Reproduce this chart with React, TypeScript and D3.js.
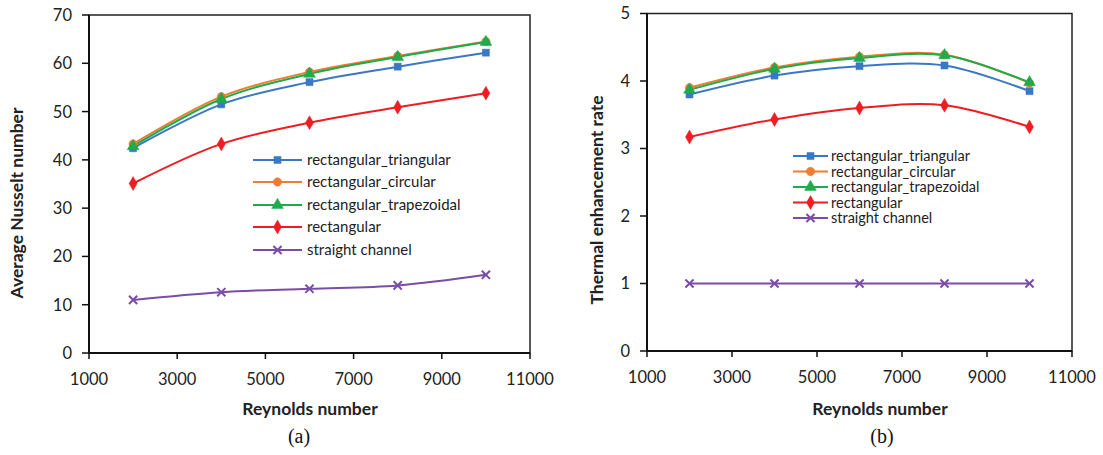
import React from 'react'
import * as d3 from 'd3'

const reynolds = [2000, 4000, 6000, 8000, 10000]
const xTicks = [1000, 3000, 5000, 7000, 9000, 11000]

const seriesNames = ['rectangular_triangular', 'rectangular_circular', 'rectangular_trapezoidal', 'rectangular', 'straight channel']

// Average Nusselt number
const nuTriangular = [42.4, 51.5, 56.1, 59.3, 62.2]
const nuCircular = [43.3, 53.1, 58.2, 61.5, 64.5]
const nuTrapezoidal = [42.8, 52.6, 57.8, 61.3, 64.4]
const nuRectangular = [35.1, 43.3, 47.7, 50.9, 53.8]
const nuStraight = [11.0, 12.6, 13.3, 14.0, 16.2]
const nuTicks = [0, 10, 20, 30, 40, 50, 60, 70]

// Thermal enhancement rate
const terTriangular = [3.8, 4.08, 4.22, 4.23, 3.85]
const terCircular = [3.9, 4.2, 4.36, 4.39, 3.97]
const terTrapezoidal = [3.87, 4.18, 4.34, 4.38, 3.98]
const terRectangular = [3.17, 3.43, 3.6, 3.64, 3.32]
const terStraight = [1, 1, 1, 1, 1]
const terTicks = [0, 1, 2, 3, 4, 5]

const colors = ['#3b78c4', '#ed7d31', '#1eab4c', '#ee1d23', '#7b4ca8']
const symbols = [d3.symbolSquare, d3.symbolCircle, d3.symbolTriangle, d3.symbolDiamond, d3.symbolX]
const symSizes = [50, 55, 60, 55, 45]
const font = 'Lato, "Open Sans", sans-serif'

function Marker({ i, x, y }: { i: number; x: number; y: number }) {
  const p = d3.symbol(symbols[i], symSizes[i])() || ''
  const stroke = i === 4
  return (
    <path d={p} transform={`translate(${x},${y})`}
      fill={stroke ? 'none' : colors[i]} stroke={colors[i]} strokeWidth={stroke ? 2 : 0.5} />
  )
}

function Panel({ data, ticks, xr, yr, yTitle, yTitlePos, xTitleX, tag, tagX, legend }: any) {
  const x = d3.scaleLinear().domain([1000, 11000]).range(xr)
  const y = d3.scaleLinear().domain([ticks[0], ticks[ticks.length - 1]]).range(yr)
  const line = d3.line<number>().x((_, k) => x(reynolds[k])).y(d => y(d)).curve(d3.curveCatmullRom.alpha(0.5))
  const [x0, x1] = xr
  const [y0, y1] = yr
  return (
    <g>
      <rect x={x0} y={y1} width={x1 - x0} height={y0 - y1} fill="none" stroke="#222" strokeWidth={1.5} />
      <line x1={x0} x2={x0} y1={y1} y2={y0} stroke="#111" strokeWidth={2} />
      <line x1={x0} x2={x1} y1={y0} y2={y0} stroke="#111" strokeWidth={2} />
      {ticks.map((t: number) => (
        <g key={t}>
          <line x1={x0 - 7} x2={x0} y1={y(t)} y2={y(t)} stroke="#111" strokeWidth={1.5} />
          <text x={x0 - 17} y={y(t)} dy="0.36em" textAnchor="end" fontSize={16.5} fill="#222" fontFamily={font}>{t}</text>
        </g>
      ))}
      {xTicks.map(t => (
        <g key={t}>
          <line x1={x(t)} x2={x(t)} y1={y0} y2={y0 + 6} stroke="#111" strokeWidth={1.5} />
          <text x={x(t)} y={y0 + 32} textAnchor="middle" fontSize={16.5} fill="#222" fontFamily={font}>{t}</text>
        </g>
      ))}
      {data.map((vals: number[], i: number) => (
        <path key={i} d={line(vals) || ''} fill="none" stroke={colors[i]} strokeWidth={2} />
      ))}
      {data.map((vals: number[], i: number) => vals.map((v, k) => (
        <Marker key={i + '-' + k} i={i} x={x(reynolds[k])} y={y(v)} />
      )))}
      <text x={xTitleX} y={415} textAnchor="middle" fontSize={17.5} fontWeight="bold" fill="#222" fontFamily={font}>Reynolds number</text>
      <text transform={`translate(${yTitlePos[0]},${yTitlePos[1]}) rotate(-90)`} dy="0.36em" textAnchor="middle" fontSize={17.5} fontWeight="bold" fill="#222" fontFamily={font}>{yTitle}</text>
      <text x={tagX} y={443} textAnchor="middle" fontSize={20} fill="#111" fontFamily='"Liberation Serif", "Times New Roman", serif'>{tag}</text>
      {seriesNames.map((name, i) => {
        const ly = legend.y[i]
        return (
          <g key={name}>
            <line x1={legend.x0} x2={legend.x1} y1={ly} y2={ly} stroke={colors[i]} strokeWidth={2} />
            <Marker i={i} x={(legend.x0 + legend.x1) / 2} y={ly} />
            <text x={legend.tx} y={ly} dy="0.35em" fontSize={legend.fs} fill="#222" fontFamily={font}>{name}</text>
          </g>
        )
      })}
    </g>
  )
}

export default function App() {
  return (
    <svg width={1103} height={455} style={{ position: 'absolute', left: 0, top: 0, background: '#fff' }}>
      <Panel
        data={[nuTriangular, nuCircular, nuTrapezoidal, nuRectangular, nuStraight]}
        ticks={nuTicks} xr={[89, 530]} yr={[353, 15]}
        yTitle="Average Nusselt number" yTitlePos={[17, 203]}
        xTitleX={310} tag="(a)" tagX={299}
        legend={{ x0: 253, x1: 302, tx: 307, fs: 15, y: [160, 182, 205, 227, 250] }}
      />
      <Panel
        data={[terTriangular, terCircular, terTrapezoidal, terRectangular, terStraight]}
        ticks={terTicks} xr={[647, 1072]} yr={[351, 13.5]}
        yTitle="Thermal enhancement rate" yTitlePos={[597, 200]}
        xTitleX={880} tag="(b)" tagX={882}
        legend={{ x0: 793, x1: 828, tx: 831, fs: 14.5, y: [156, 171.5, 187, 202.5, 218] }}
      />
    </svg>
  )
}
